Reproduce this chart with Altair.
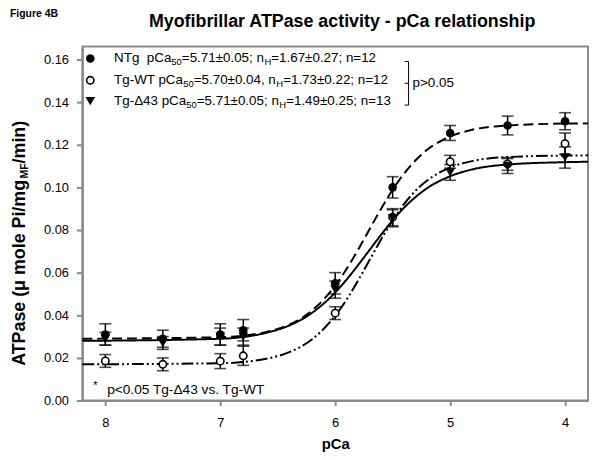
import altair as alt
import pandas as pd

# ---------------- data ----------------
pca = [8.0, 7.5, 7.0, 6.8, 6.0, 5.5, 5.0, 4.5, 4.0]
ntg_mean = [0.031, 0.029, 0.031, 0.033, 0.055, 0.100, 0.1255, 0.129, 0.131]
ntg_sem = [0.005, 0.004, 0.005, 0.005, 0.005, 0.005, 0.0035, 0.0044, 0.004]
wt_mean = [0.0186, 0.017, 0.0185, 0.021, 0.041, 0.086, 0.112, 0.111, 0.1205]
wt_sem = [0.003, 0.003, 0.0035, 0.0045, 0.003, 0.004, 0.003, 0.003, 0.005]
d43_mean = [0.029, 0.027, 0.030, 0.030, 0.052, 0.0855, 0.107, 0.110, 0.114]
d43_sem = [0.003, 0.003, 0.004, 0.004, 0.004, 0.004, 0.0037, 0.0035, 0.005]

# fitted curves at these pCa values
curve_pca = [8.2, 7.0, 6.6, 6.4, 6.2, 6.0, 5.9, 5.8, 5.7, 5.6, 5.5, 5.4, 5.3, 5.2, 5.0, 4.8, 4.5, 4.0, 3.8]
ntg_fit = [0.029, 0.0297, 0.0322, 0.0356, 0.0423, 0.0539, 0.0618, 0.0708, 0.0805, 0.090, 0.0989,
           0.1065, 0.1127, 0.1176, 0.1238, 0.1271, 0.129, 0.1299, 0.130]
d43_fit = [0.028, 0.029, 0.0318, 0.0352, 0.0412, 0.0507, 0.0568, 0.0636, 0.0707, 0.0778, 0.0845,
           0.0905, 0.0955, 0.0996, 0.1052, 0.1085, 0.1107, 0.1118, 0.112]
wt_fit = [0.017, 0.0175, 0.0196, 0.0227, 0.0288, 0.0398, 0.0474, 0.0564, 0.066, 0.0756, 0.0845,
          0.0922, 0.0985, 0.1032, 0.1093, 0.1124, 0.1142, 0.1149, 0.115]

x_ticks = [8, 7, 6, 5, 4]
y_ticks = [0.00, 0.02, 0.04, 0.06, 0.08, 0.10, 0.12, 0.14, 0.16]

legend_rows = [
    [("NTg\u00a0 pCa", 0), ("50", 1), ("=5.71\u00b10.05; n", 0), ("H", 1), ("=1.67\u00b10.27; n=12", 0)],
    [("Tg-WT pCa", 0), ("50", 1), ("=5.70\u00b10.04, n", 0), ("H", 1), ("=1.73\u00b10.22; n=12", 0)],
    [("Tg-\u039443 pCa", 0), ("50", 1), ("=5.71\u00b10.05; n", 0), ("H", 1), ("=1.49\u00b10.25; n=13", 0)],
]
ytitle_parts = [("ATPase (\u03bc mole Pi/mg", 0), ("MF", 1), ("/min)", 0)]

# ---------------- layout helpers ----------------
FONT = "Liberation Sans"
REG = {' ': 278, '\u00a0': 278, '(': 333, ')': 333, '*': 389, '+': 584, ',': 278, '-': 333, '.': 278,
       '/': 278, ':': 278, ';': 278, '<': 584, '=': 584, '>': 584, '\u00b1': 584, '\u0394': 668,
       '\u03bc': 576, 'A': 667, 'B': 667, 'C': 722, 'F': 611, 'H': 722, 'M': 833, 'N': 722, 'P': 667,
       'T': 611, 'W': 944, 'a': 556, 'c': 500, 'e': 556, 'g': 556, 'h': 556, 'i': 222, 'l': 222,
       'm': 833, 'n': 556, 'o': 556, 'p': 556, 'r': 333, 's': 500, 't': 278, 'v': 500, 'y': 500}
BOLD = {' ': 278, '(': 333, ')': 333, '/': 278, 'A': 722, 'F': 611, 'M': 833, 'P': 667, 'T': 611,
        'a': 556, 'e': 556, 'g': 611, 'i': 278, 'l': 278, 'm': 889, 'n': 611, 'o': 611, 's': 556,
        '\u03bc': 611}


def tw(s, size, bold=False):
    table = BOLD if bold else REG
    return sum(table.get(c, 556) for c in s) * size / 1000.0


W, H = 510, 357
dummy = pd.DataFrame({"d": [0]})

xs = alt.Scale(domain=[8.2, 3.8], nice=False, zero=False)
ys = alt.Scale(domain=[0, 0.166], nice=False, zero=False)

# ---------------- data tables ----------------
pts = pd.DataFrame({
    "pca": pca * 3,
    "mean": ntg_mean + wt_mean + d43_mean,
    "sem": ntg_sem + wt_sem + d43_sem,
    "grp": ["NTg"] * 9 + ["WT"] * 9 + ["D43"] * 9,
})
pts["lo"] = pts["mean"] - pts["sem"]
pts["hi"] = pts["mean"] + pts["sem"]

curves = {
    "NTg": pd.DataFrame({"pca": curve_pca, "v": ntg_fit}),
    "D43": pd.DataFrame({"pca": curve_pca, "v": d43_fit}),
    "WT": pd.DataFrame({"pca": curve_pca, "v": wt_fit}),
}
dashes = {"NTg": [10, 5], "D43": [1, 0], "WT": [12, 3, 2, 3, 2, 3]}

layers = []
for g in ["WT", "D43", "NTg"]:
    layers.append(
        alt.Chart(curves[g]).mark_line(color="black", strokeWidth=2, strokeDash=dashes[g],
                                       interpolate="monotone")
        .encode(x=alt.X("pca:Q", scale=xs,
                        axis=alt.Axis(values=x_ticks, format="d", title="pCa")),
                y=alt.Y("v:Q", scale=ys,
                        axis=alt.Axis(values=y_ticks, format=".2f", title=None)))
    )

layers.append(alt.Chart(pts).mark_rule(color="black", strokeWidth=1.5)
              .encode(x="pca:Q", y="lo:Q", y2="hi:Q"))
for f in ["lo", "hi"]:
    layers.append(alt.Chart(pts).mark_tick(orient="horizontal", color="black", size=12, thickness=1.6)
                  .encode(x="pca:Q", y=f"{f}:Q"))

shape_style = {
    "NTg": dict(shape="circle", filled=True, fill="black", size=75),
    "WT": dict(shape="circle", filled=True, fill="white", stroke="black", strokeWidth=1.6, size=55),
    "D43": dict(shape="triangle-down", filled=True, fill="black", size=95),
}
for g in ["WT", "NTg", "D43"]:
    layers.append(alt.Chart(pts[pts.grp == g]).mark_point(opacity=1, **shape_style[g])
                  .encode(x="pca:Q", y="mean:Q"))

# ---------------- legend ----------------
row_y = [12, 34, 55]
for g, ry in zip(["NTg", "WT", "D43"], row_y):
    layers.append(alt.Chart(dummy).mark_point(opacity=1, **shape_style[g])
                  .encode(x=alt.value(8), y=alt.value(ry)))

LS, SS = 13.5, 9.5
for parts, ry in zip(legend_rows, row_y):
    cx = 32
    for txt, sub in parts:
        size = SS if sub else LS
        layers.append(alt.Chart(dummy).mark_text(text=txt, font=FONT, fontSize=size, align="left",
                                                 baseline="middle", color="black")
                      .encode(x=alt.value(cx), y=alt.value(ry + (4 if sub else 0))))
        cx += tw(txt, size)

# bracket + p>0.05
bx = 329
layers.append(alt.Chart(dummy).mark_rule(color="black", strokeWidth=1)
              .encode(x=alt.value(bx), y=alt.value(15), y2=alt.value(59)))
for ty in [15, 37, 59]:
    layers.append(alt.Chart(dummy).mark_rule(color="black", strokeWidth=1)
                  .encode(x=alt.value(bx - 4), x2=alt.value(bx), y=alt.value(ty)))
layers.append(alt.Chart(dummy).mark_text(text="p>0.05", font=FONT, fontSize=13.5, align="left",
                                         baseline="middle", color="black")
              .encode(x=alt.value(bx + 4), y=alt.value(37)))

# significance note
layers.append(alt.Chart(dummy).mark_text(text="*", font=FONT, fontSize=11, align="center",
                                         baseline="middle", color="black")
              .encode(x=alt.value(13), y=alt.value(342)))
layers.append(alt.Chart(dummy).mark_text(text="p<0.05 Tg-\u039443 vs. Tg-WT", font=FONT, fontSize=13.8,
                                         align="left", baseline="middle", color="black")
              .encode(x=alt.value(25), y=alt.value(346)))

# ---------------- titles ----------------
layers.append(alt.Chart(dummy).mark_text(text="Myofibrillar ATPase activity - pCa relationship",
                                         font=FONT, fontSize=18, fontWeight="bold", align="center",
                                         baseline="middle", color="black")
              .encode(x=alt.value(262), y=alt.value(-25)))
layers.append(alt.Chart(dummy).mark_text(text="Figure 4B", font=FONT, fontSize=10.5, fontWeight="bold",
                                         align="left", baseline="middle", color="black")
              .encode(x=alt.value(-73), y=alt.value(-33)))

# rotated y title with subscript
cy = 322
for txt, sub in ytitle_parts:
    size = 10.5 if sub else 18
    layers.append(alt.Chart(dummy).mark_text(text=txt, font=FONT, fontSize=size, fontWeight="bold",
                                             angle=270, align="left", baseline="middle", color="black")
                  .encode(x=alt.value(-63 + (5 if sub else 0)), y=alt.value(cy)))
    cy -= tw(txt, size, bold=True)

chart = alt.layer(*layers).properties(
    width=W, height=H,
    autosize=alt.AutoSizeParams(type="none"),
    padding={"left": 75, "top": 37, "right": 4, "bottom": 58},
).configure_view(
    stroke="#8a8a8a", strokeWidth=2
).configure_axis(
    grid=False, domainColor="#8a8a8a", domainWidth=2, tickColor="#8a8a8a", tickWidth=2,
    labelFont=FONT, labelFontSize=13, labelColor="black",
    titleFont=FONT, titleFontSize=15, titleFontWeight="bold", titleColor="black",
).configure_axisX(
    tickSize=5, labelPadding=11, titlePadding=7
).configure_axisY(
    tickSize=6, labelPadding=8
)

chart.save("out.html", embed_options={"renderer": "svg", "actions": False})
